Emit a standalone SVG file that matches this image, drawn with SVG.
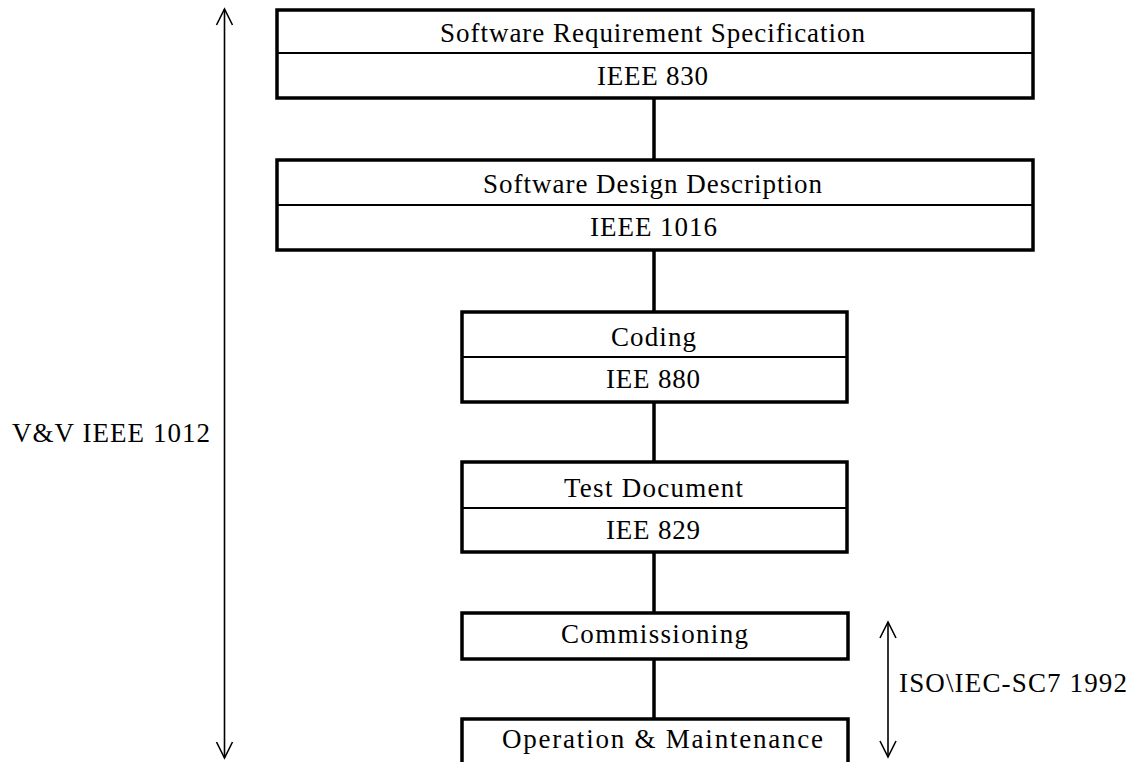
<svg xmlns="http://www.w3.org/2000/svg" width="1138" height="762" viewBox="0 0 1138 762">
<style>
.box{fill:#fff;stroke:#000;stroke-width:3.5}
.div{stroke:#000;stroke-width:2}
.con{stroke:#000;stroke-width:3.5;fill:none}
.arr{stroke:#000;stroke-width:1.6;fill:none}
text{font-family:"Liberation Serif","Times New Roman",serif;font-size:27px;fill:#000}
</style>
<defs>
<marker id="open" viewBox="0 0 20 20" refX="18" refY="10" markerWidth="20" markerHeight="20" markerUnits="userSpaceOnUse" orient="auto-start-reverse">
<path d="M2,2 L18,10 L2,18" fill="none" stroke="#000" stroke-width="1.6"/>
</marker>
</defs>
<rect width="1138" height="762" fill="#fff"/>
<g id="connectors">
<line class="con" x1="654" y1="98" x2="654" y2="160"/>
<line class="con" x1="654" y1="250" x2="654" y2="312"/>
<line class="con" x1="654" y1="402" x2="654" y2="462"/>
<line class="con" x1="654" y1="552" x2="654" y2="613"/>
<line class="con" x1="654" y1="659" x2="654" y2="719"/>
<line class="arr" x1="224.5" y1="9" x2="224.5" y2="758" marker-start="url(#open)" marker-end="url(#open)"/>
<line class="arr" x1="888" y1="622" x2="888" y2="757" marker-start="url(#open)" marker-end="url(#open)"/>
</g>
<g id="srs">
<rect class="box" x="277" y="10" width="756" height="88"/>
<line class="div" x1="277" y1="53" x2="1033" y2="53"/>
<text x="440" y="42" textLength="425" lengthAdjust="spacing">Software Requirement Specification</text>
<text x="597" y="85" textLength="111" lengthAdjust="spacing">IEEE 830</text>
</g>
<g id="sdd">
<rect class="box" x="277" y="160" width="756" height="90"/>
<line class="div" x1="277" y1="205" x2="1033" y2="205"/>
<text x="483" y="193" textLength="339" lengthAdjust="spacing">Software Design Description</text>
<text x="590" y="236" textLength="127" lengthAdjust="spacing">IEEE 1016</text>
</g>
<g id="coding">
<rect class="box" x="462" y="312" width="385" height="90"/>
<line class="div" x1="462" y1="357" x2="847" y2="357"/>
<text x="611" y="346" textLength="85" lengthAdjust="spacing">Coding</text>
<text x="606" y="388" textLength="94" lengthAdjust="spacing">IEE 880</text>
</g>
<g id="test">
<rect class="box" x="462" y="462" width="385" height="90"/>
<line class="div" x1="462" y1="508" x2="847" y2="508"/>
<text x="564" y="497" textLength="179" lengthAdjust="spacing">Test Document</text>
<text x="606" y="539" textLength="94" lengthAdjust="spacing">IEE 829</text>
</g>
<g id="commissioning">
<rect class="box" x="462" y="613" width="386" height="46"/>
<text x="561" y="643" textLength="187" lengthAdjust="spacing">Commissioning</text>
</g>
<g id="operation">
<rect class="box" x="462" y="719" width="386" height="48"/>
<text x="502" y="748" textLength="321" lengthAdjust="spacing">Operation &amp; Maintenance</text>
</g>
<g id="labels">
<text x="12" y="442" textLength="198" lengthAdjust="spacing">V&amp;V IEEE 1012</text>
<text x="899" y="692" textLength="228" lengthAdjust="spacing">ISO\IEC-SC7 1992</text>
</g>
</svg>
